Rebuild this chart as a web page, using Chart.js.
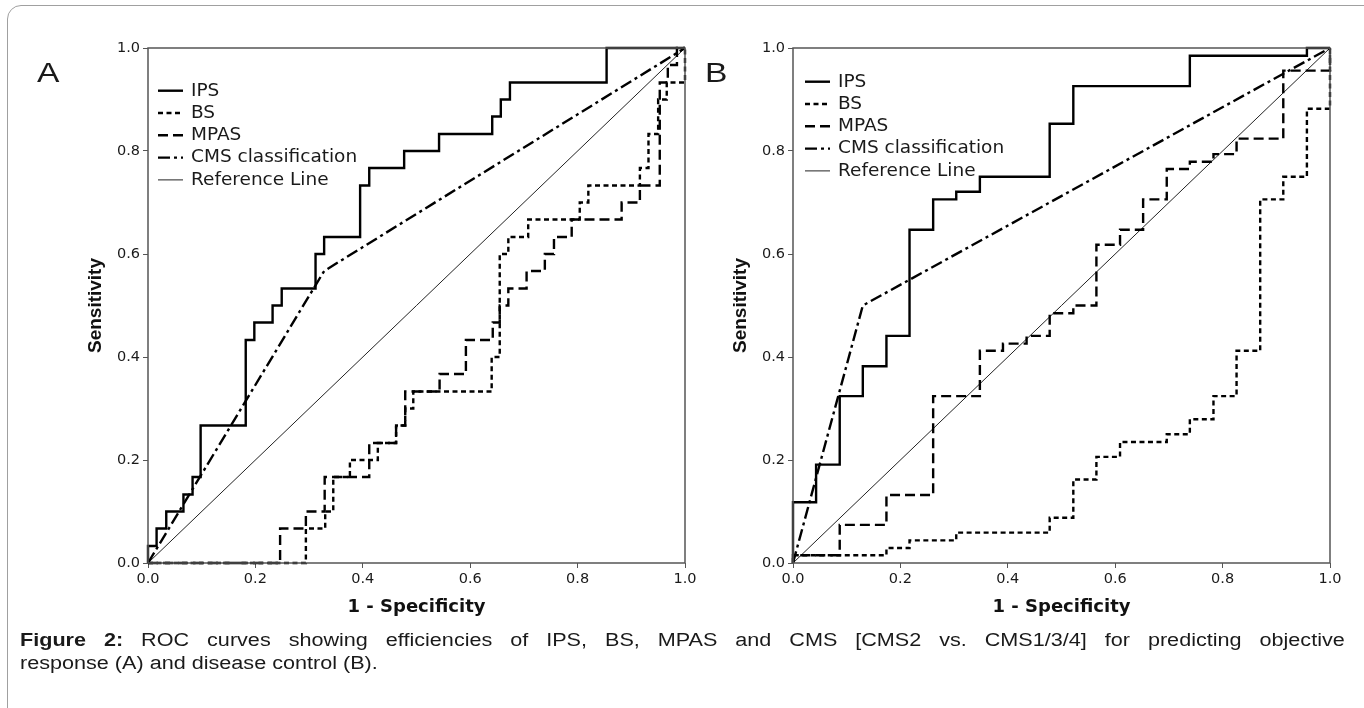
<!DOCTYPE html>
<html lang="en">
<head>
  <meta charset="UTF-8" />
  <title>ROC curves - Figure 2</title>
  <script src="https://cdn.jsdelivr.net/npm/chart.js"></script>
  <style>
    html, body { margin: 0; padding: 0; background: #fff; }
    body {
      width: 1364px; height: 708px; position: relative; overflow: hidden;
      font-family: "Liberation Sans", Arial, sans-serif; color: #1a1a1a;
    }
    .frame {
      position: absolute; left: 7px; top: 5px; width: 1400px; height: 760px;
      border: 1px solid #a0a0a0; border-top-left-radius: 14px;
    }
    .panel { position: absolute; top: 0; width: 700px; height: 630px; }
    #panelA { left: 0; }
    #panelB { left: 645px; }
    .letter {
      position: absolute; top: 59px; font-size: 28px; line-height: 28px;
      transform: scaleX(1.2); transform-origin: left top;
    }
    .caption {
      position: absolute; left: 20px; top: 629px; width: 1104px;
      font-size: 18px; line-height: 23px;
      transform: scaleX(1.2); transform-origin: left top;
    }
    .caption .l1 { text-align: justify; text-align-last: justify; }
  </style>
</head>
<body>
  <div class="frame"></div>

  <div class="panel" id="panelA"><canvas id="rocA"></canvas></div>
  <div class="panel" id="panelB"><canvas id="rocB"></canvas></div>

  <div class="letter" style="left:37px">A</div>
  <div class="letter" style="left:705px">B</div>

  <div class="caption">
    <div class="l1"><b>Figure 2:</b> ROC curves showing efficiencies of IPS, BS, MPAS and CMS [CMS2 vs. CMS1/3/4] for predicting objective</div>
    <div>response (A) and disease control (B).</div>
  </div>

  <script>
    const seriesNames = ["IPS", "BS", "MPAS", "CMS classification", "Reference Line"];
    const tickValues = [0, 0.2, 0.4, 0.6, 0.8, 1.0];

    // Panel A - objective response
    const ipsA_fpr  = [0, 0, 0.016, 0.034, 0.066, 0.083, 0.098, 0.182, 0.198, 0.232, 0.249, 0.312, 0.328, 0.395, 0.412, 0.477, 0.542, 0.641, 0.657, 0.674, 0.854, 1];
    const ipsA_tpr  = [0, 0.033, 0.067, 0.100, 0.133, 0.167, 0.267, 0.433, 0.467, 0.500, 0.533, 0.600, 0.633, 0.733, 0.767, 0.800, 0.833, 0.867, 0.900, 0.933, 1, 1];
    const bsA_fpr   = [0, 0.294, 0.330, 0.345, 0.376, 0.428, 0.462, 0.479, 0.494, 0.640, 0.655, 0.671, 0.708, 0.804, 0.820, 0.916, 0.932, 0.950, 0.966, 1];
    const bsA_tpr   = [0, 0.067, 0.100, 0.167, 0.200, 0.233, 0.267, 0.300, 0.333, 0.400, 0.600, 0.633, 0.667, 0.700, 0.733, 0.767, 0.833, 0.900, 0.933, 1];
    const mpasA_fpr = [0, 0.246, 0.294, 0.329, 0.412, 0.462, 0.479, 0.543, 0.592, 0.642, 0.655, 0.671, 0.705, 0.739, 0.756, 0.789, 0.882, 0.916, 0.953, 0.968, 0.985, 1];
    const mpasA_tpr = [0, 0.067, 0.100, 0.167, 0.233, 0.267, 0.333, 0.367, 0.433, 0.467, 0.500, 0.533, 0.567, 0.600, 0.633, 0.667, 0.700, 0.733, 0.933, 0.967, 1, 1];
    const cmsA_fpr  = [0, 0.328, 1];
    const cmsA_tpr  = [0, 0.567, 1];

    // Panel B - disease control
    const ipsB_fpr  = [0, 0, 0.043, 0.087, 0.130, 0.174, 0.217, 0.261, 0.304, 0.348, 0.478, 0.522, 0.739, 0.957, 1];
    const ipsB_tpr  = [0, 0.118, 0.191, 0.324, 0.382, 0.441, 0.647, 0.706, 0.721, 0.750, 0.853, 0.926, 0.985, 1, 1];
    const bsB_fpr   = [0, 0, 0.174, 0.217, 0.304, 0.478, 0.522, 0.565, 0.609, 0.696, 0.739, 0.783, 0.826, 0.870, 0.913, 0.957, 1];
    const bsB_tpr   = [0, 0.015, 0.029, 0.044, 0.059, 0.088, 0.162, 0.206, 0.235, 0.250, 0.279, 0.324, 0.412, 0.706, 0.750, 0.882, 1];
    const mpasB_fpr = [0, 0, 0.087, 0.174, 0.261, 0.348, 0.391, 0.435, 0.478, 0.522, 0.565, 0.609, 0.652, 0.696, 0.739, 0.783, 0.826, 0.913, 1];
    const mpasB_tpr = [0, 0.015, 0.074, 0.132, 0.324, 0.412, 0.426, 0.441, 0.485, 0.500, 0.618, 0.647, 0.706, 0.765, 0.779, 0.794, 0.824, 0.956, 1];
    const cmsB_fpr  = [0, 0.13, 1];
    const cmsB_tpr  = [0, 0.50, 1];

    const refLine_fpr = [0, 1];
    const refLine_tpr = [0, 1];

    const pts = (xs, ys) => xs.map((x, i) => ({ x: x, y: ys[i] }));

    // frame round the plot + legend drawn inside the plot area
    const rocLegend = {
      id: "rocLegend",
      afterDatasetsDraw(chart, args, opts) {
        const ctx = chart.ctx;
        const a = chart.chartArea;
        ctx.save();
        ctx.setLineDash([]);
        ctx.strokeStyle = "#555";
        ctx.lineWidth = 1.5;
        ctx.strokeRect(a.left, a.top, a.right - a.left, a.bottom - a.top);

        ctx.font = '18.5px "DejaVu Sans"';
        ctx.textBaseline = "middle";
        chart.data.datasets.forEach((ds, i) => {
          const y = a.top + opts.top + i * opts.step;
          const x0 = a.left + opts.left;
          ctx.beginPath();
          ctx.setLineDash(ds.borderDash || []);
          ctx.lineWidth = ds.borderWidth;
          ctx.strokeStyle = ds.borderColor;
          ctx.moveTo(x0, y);
          ctx.lineTo(x0 + 25, y);
          ctx.stroke();
          ctx.setLineDash([]);
          ctx.fillStyle = "#1a1a1a";
          ctx.fillText(ds.label, x0 + 33, y);
        });
        ctx.restore();
      }
    };

    function makeDatasets(ips, bs, mpas, cms) {
      return [
        { label: seriesNames[0], data: ips,  borderColor: "#000", borderWidth: 2.4, stepped: "before" },
        { label: seriesNames[1], data: bs,   borderColor: "#000", borderWidth: 2.4, stepped: "before", borderDash: [5, 3.5] },
        { label: seriesNames[2], data: mpas, borderColor: "#000", borderWidth: 2.4, stepped: "before", borderDash: [10, 5] },
        { label: seriesNames[3], data: cms,  borderColor: "#000", borderWidth: 2.4, borderDash: [12, 4, 3, 4] },
        { label: seriesNames[4], data: pts(refLine_fpr, refLine_tpr), borderColor: "#222", borderWidth: 1 }
      ].map(ds => Object.assign({ showLine: true, pointRadius: 0, fill: false, clip: 3 }, ds));
    }

    function makeOptions(legendTop, legendLeft) {
      const tickFont = { family: "DejaVu Sans", size: 14.5 };
      return {
        responsive: true,
        maintainAspectRatio: false,
        animation: false,
        layout: { padding: { left: 0, top: 48, right: 15, bottom: 7 } },
        plugins: {
          legend: { display: false },
          tooltip: { enabled: false },
          rocLegend: { top: legendTop, left: legendLeft, step: 22.3 }
        },
        scales: {
          x: {
            type: "linear", min: 0, max: 1,
            afterBuildTicks: s => { s.ticks = tickValues.map(v => ({ value: v })); },
            afterFit: s => { s.height = 60; },
            ticks: { callback: v => v.toFixed(1), font: tickFont, color: "#1a1a1a", padding: 3 },
            grid: { drawOnChartArea: false, drawTicks: true, tickLength: 5, color: "#555" },
            border: { display: false },
            title: {
              display: true, text: "1 - Specificity", color: "#111",
              font: { family: "DejaVu Sans", weight: "bold", size: 18 },
              padding: { top: 0, bottom: 5 }
            }
          },
          y: {
            type: "linear", min: 0, max: 1,
            afterBuildTicks: s => { s.ticks = tickValues.map(v => ({ value: v })); },
            afterFit: s => { s.width = 148; },
            ticks: { callback: v => v.toFixed(1), font: tickFont, color: "#1a1a1a", padding: 3 },
            grid: { drawOnChartArea: false, drawTicks: true, tickLength: 5, color: "#555" },
            border: { display: false },
            title: {
              display: true, text: "Sensitivity", color: "#111",
              font: { family: "Liberation Sans", weight: "bold", size: 19 },
              padding: { top: 84, bottom: 0 }
            }
          }
        }
      };
    }

    new Chart(document.getElementById("rocA"), {
      type: "scatter",
      data: { datasets: makeDatasets(pts(ipsA_fpr, ipsA_tpr), pts(bsA_fpr, bsA_tpr), pts(mpasA_fpr, mpasA_tpr), pts(cmsA_fpr, cmsA_tpr)) },
      options: makeOptions(42.7, 10),
      plugins: [rocLegend]
    });

    new Chart(document.getElementById("rocB"), {
      type: "scatter",
      data: { datasets: makeDatasets(pts(ipsB_fpr, ipsB_tpr), pts(bsB_fpr, bsB_tpr), pts(mpasB_fpr, mpasB_tpr), pts(cmsB_fpr, cmsB_tpr)) },
      options: makeOptions(33.7, 12),
      plugins: [rocLegend]
    });
  </script>
</body>
</html>
